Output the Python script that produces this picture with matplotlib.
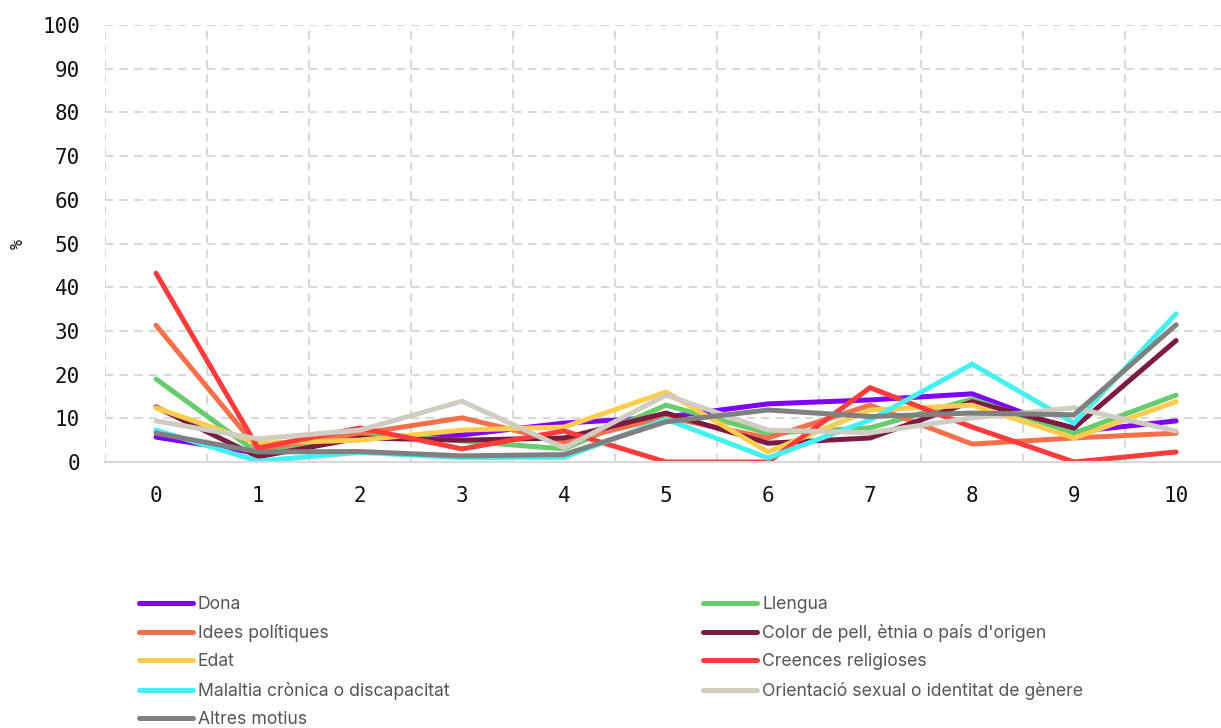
import numpy as np
from matplotlib import pyplot as plt

# survey scale 0-10 on the x axis
scores = list(range(11))

dona = [5.7, 2.0, 5.5, 6.2, 8.9, 10.3, 13.3, 14.2, 15.6, 6.9, 9.4]
llengua = [19.0, 2.0, 6.6, 4.8, 3.0, 13.0, 6.6, 7.8, 14.4, 6.6, 15.3]
idees = [31.3, 3.0, 6.5, 10.1, 4.6, 10.3, 5.5, 13.0, 4.1, 5.5, 6.6]
color_pell = [12.6, 1.2, 5.5, 5.0, 5.5, 11.2, 4.3, 5.5, 13.8, 7.8, 27.8]
edat = [12.4, 4.3, 5.0, 7.3, 8.0, 16.0, 2.3, 11.9, 13.0, 5.5, 13.8]
creences = [43.2, 3.2, 7.8, 3.0, 7.1, 0.0, 0.0, 17.0, 8.0, 0.0, 2.3]
malaltia = [7.3, 0.2, 2.2, 1.0, 1.1, 9.8, 0.9, 9.6, 22.4, 8.9, 33.9]
orientacio = [9.4, 5.3, 7.3, 13.9, 3.2, 15.3, 7.3, 6.7, 10.1, 12.4, 7.1]
altres = [6.6, 2.3, 2.4, 1.4, 1.7, 9.2, 11.9, 10.4, 11.2, 10.8, 31.4]

series = [
    ('Dona', dona, '#8000ff'),
    ('Llengua', llengua, '#66cc6e'),
    ('Idees polítiques', idees, '#f3704a'),
    ("Color de pell, ètnia o país d'origen", color_pell, '#7b1a42'),
    ('Edat', edat, '#ffcc4d'),
    ('Creences religioses', creences, '#ff3b3b'),
    ('Malaltia crònica o discapacitat', malaltia, '#45f0f0'),
    ('Orientació sexual o identitat de gènere', orientacio, '#cfccc1'),
    ('Altres motius', altres, '#808080'),
]

fig = plt.figure(figsize=(12.21, 7.28), dpi=100)
ax = fig.add_axes([105 / 1221, 1 - 462 / 728, 1 - 105 / 1221, (462 - 25) / 728])

handles = {}
for name, vals, col in series:
    ln, = ax.plot(scores, vals, color=col, lw=3.6, solid_capstyle='round',
                  solid_joinstyle='miter', label=name)
    handles[name] = ln

ax.set_ylim(0, 100)
ax.set_xlim(-0.5, 10.44)
ax.set_yticks(range(0, 101, 10))
ax.set_xticks(scores)
ax.set_xticks(np.arange(-0.5, 10.5, 1), minor=True)

grid_kw = dict(color='#d9d9d9', lw=1.5, ls=(0, (4, 3)))
ax.grid(axis='y', which='major', **grid_kw)
ax.grid(axis='x', which='minor', **grid_kw)
ax.set_axisbelow(True)

for s in ['top', 'right', 'left']:
    ax.spines[s].set_visible(False)
ax.spines['bottom'].set_color('#d9d9d9')
ax.spines['bottom'].set_linewidth(1.5)

ax.tick_params(which='both', length=0)
ax.tick_params(axis='y', pad=18)
ax.tick_params(axis='x', pad=17)
for lab in ax.get_xticklabels() + ax.get_yticklabels():
    lab.set_fontfamily('DejaVu Sans Mono')
    lab.set_fontsize(15)
    lab.set_color('#111111')

fig.text(18 / 1221, 1 - 244 / 728, '%', rotation=90, ha='center', va='center',
         fontsize=12, family='DejaVu Sans Mono', color='#111111')

# legend order is row-wise in the reference, matplotlib fills column-wise
order = ['Dona', 'Idees polítiques', 'Edat', 'Malaltia crònica o discapacitat', 'Altres motius',
         'Llengua', "Color de pell, ètnia o país d'origen", 'Creences religioses',
         'Orientació sexual o identitat de gènere']
leg = fig.legend([handles[n] for n in order], order, loc='upper left',
                 bbox_to_anchor=(130 / 1221, 1 - 587 / 728), ncol=2, frameon=False,
                 prop={'family': 'Inter', 'size': 12.7}, handlelength=3.06,
                 handletextpad=0.28, labelspacing=0.64, columnspacing=14.4, borderpad=0)
for t in leg.get_texts():
    t.set_color('#555555')

plt.savefig('out.png', dpi=100)
plt.close()
